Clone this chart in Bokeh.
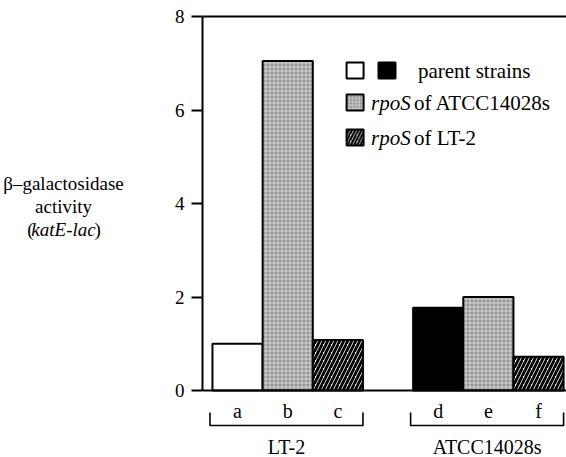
from bokeh.plotting import figure
from bokeh.layouts import row
from bokeh.models import Range1d, FixedTicker, ColumnDataSource
from bokeh.embed import file_html
from bokeh.resources import INLINE
from bokeh.core.properties import value

# ---------------- data ----------------
groups = ["LT-2", "ATCC14028s"]
letters = ["a", "b", "c", "d", "e", "f"]
bar_group = ["LT-2", "LT-2", "LT-2", "ATCC14028s", "ATCC14028s", "ATCC14028s"]
strain_kind = ["parent_LT2", "rpoS_ATCC", "rpoS_LT2", "parent_ATCC", "rpoS_ATCC", "rpoS_LT2"]
activity = [1.0, 7.05, 1.08, 1.77, 2.0, 0.72]
y_ticks = [0, 2, 4, 6, 8]
y_title = ["\u03b2\u2013galactosidase", "activity", "katE-lac"]
legend_text = ["parent strains", "of ATCC14028s", "of LT-2"]
legend_italic = "rpoS"

# ---------------- styles ----------------
styles = {
    "parent_LT2": dict(fill="white", hatch=" ", hcol="black", hscale=6, hweight=1),
    "parent_ATCC": dict(fill="black", hatch=" ", hcol="black", hscale=6, hweight=1),
    "rpoS_ATCC": dict(fill="#969696", hatch="+", hcol="#d4d4d4", hscale=4, hweight=1),
    "rpoS_LT2": dict(fill="white", hatch="/", hcol="black", hscale=8, hweight=2.8),
}
SERIF = "Liberation Serif"

# layout constants (canvas pixel geometry)
TOTAL_W, TOTAL_H = 566, 457
AX_PX = 201.0        # x of y-axis
LEFT_W = 171         # width of the side panel holding the axis title
AXIS_W = 30          # room for ticks + tick labels
BASE_PX = 390.0      # y of value 0
PXX = 50.3           # px per bar slot
PXY = 46.75          # px per unit of activity

x_start = -0.5 - 10.0 / PXX
x_end = x_start + (TOTAL_W - AX_PX) / PXX
y_end = BASE_PX / PXY
y_start = (BASE_PX - TOTAL_H) / PXY
yr = Range1d(y_start, y_end)


def X(px):
    return x_start + (px - AX_PX) / PXX


def Y(py):
    return (BASE_PX - py) / PXY


# bar positions derived from group membership (one empty slot between groups)
n_first = bar_group.count(groups[0])
xs = []
for i, g in enumerate(bar_group):
    gi = groups.index(g)
    j = bar_group[:i].count(g)
    xs.append(gi * (n_first + 1) + j)

src = ColumnDataSource(dict(
    x=xs, top=activity, letter=letters,
    fill=[styles[k]["fill"] for k in strain_kind],
    hatch=[styles[k]["hatch"] for k in strain_kind],
    hcol=[styles[k]["hcol"] for k in strain_kind],
    hscale=[styles[k]["hscale"] for k in strain_kind],
    hweight=[styles[k]["hweight"] for k in strain_kind],
    ly=[Y(410)] * len(letters),
))

# ---------------- side panel with the y-axis title ----------------
side = figure(width=LEFT_W, height=TOTAL_H, output_backend="svg", toolbar_location=None,
              x_range=Range1d(0, LEFT_W), y_range=yr, x_axis_location=None,
              y_axis_location=None, min_border=0, title=None)
side.outline_line_color = None
side.grid.visible = False

txt = dict(text_font=value(SERIF), text_font_size="19px", text_color="black",
           text_baseline="middle")
cx = 63
side.text(x=[cx], y=[Y(183)], text=[y_title[0]], text_align="center", **txt)
side.text(x=[cx], y=[Y(206)], text=[y_title[1]], text_align="center", **txt)
side.text(x=[cx], y=[Y(229)], text=[y_title[2]], text_align="center",
          text_font_style="italic", **txt)
half = 30.0
side.text(x=[cx - half], y=[Y(229)], text=["("], text_align="right", **txt)
side.text(x=[cx + half + 1], y=[Y(229)], text=[")"], text_align="left", **txt)

# ---------------- main chart ----------------
p = figure(width=TOTAL_W - LEFT_W, height=TOTAL_H, output_backend="svg", toolbar_location=None,
           x_range=Range1d(x_start, x_end), y_range=yr,
           x_axis_location=None, min_border_left=AXIS_W, min_border_right=0,
           min_border_top=0, min_border_bottom=0, title=None)
p.outline_line_color = None
p.grid.visible = False

ax = p.yaxis[0]
ax.bounds = (0, 8)
ax.ticker = FixedTicker(ticks=y_ticks)
ax.minor_tick_line_color = None
ax.major_tick_in = 0
ax.major_tick_out = 11
ax.major_tick_line_width = 2
ax.axis_line_width = 2
ax.major_label_standoff = 7
ax.major_label_text_font = SERIF
ax.major_label_text_font_size = "19px"
ax.major_label_text_color = "black"

# bars
p.vbar(x="x", top="top", bottom=0, width=1.0, source=src,
       fill_color="fill", line_color="black", line_width=2,
       hatch_pattern="hatch", hatch_color="hcol", hatch_scale="hscale",
       hatch_weight="hweight")

# top frame line and baseline
p.segment(x0=[x_start, x_start], y0=[y_ticks[-1], 0], x1=[x_end, x_end],
          y1=[y_ticks[-1], 0], line_color="black", line_width=2)

# bar letters
p.text(x="x", y="ly", text="letter", source=src, text_align="center",
       text_baseline="middle", text_font=value(SERIF), text_font_size="20px",
       text_color="black")

# group brackets and labels
for g in groups:
    gx = [x for x, bg in zip(xs, bar_group) if bg == g]
    left, right = min(gx) - 0.55, max(gx) + 0.5
    yb, yt = Y(425), Y(412)
    p.line([left, left, right, right], [yt, yb, yb, yt], line_color="black", line_width=1.6)
    p.text(x=[(left + right) / 2], y=[Y(446)], text=[g], text_align="center",
           text_baseline="middle", text_font=value(SERIF), text_font_size="20px",
           text_color="black")

# legend
rows_y = [70, 102, 137]
box = dict(width=17, height=16, width_units="screen", height_units="screen",
           line_color="black", line_width=2)
kinds = [["parent_LT2", "parent_ATCC"], ["rpoS_ATCC"], ["rpoS_LT2"]]
ltxt = dict(text_baseline="middle", text_font=value(SERIF), text_font_size="21px",
            text_color="black", text_align="left")
for r, (ry, ks) in enumerate(zip(rows_y, kinds)):
    for k_i, k in enumerate(ks):
        s = styles[k]
        p.rect(x=[X(354 + 32 * k_i)], y=[Y(ry)], fill_color=s["fill"],
               hatch_pattern=s["hatch"], hatch_color=s["hcol"],
               hatch_scale=s["hscale"] * 0.8, hatch_weight=s["hweight"] * 0.8, **box)
    if r == 0:
        p.text(x=[X(417)], y=[Y(ry)], text=[legend_text[0]], **ltxt)
    else:
        p.text(x=[X(370)], y=[Y(ry)], text=[legend_italic], text_font_style="italic", **ltxt)
        p.text(x=[X(413)], y=[Y(ry)], text=[legend_text[r]], **ltxt)

layout = row(side, p, spacing=0)
open("out.html", "w").write(file_html(layout, INLINE))
